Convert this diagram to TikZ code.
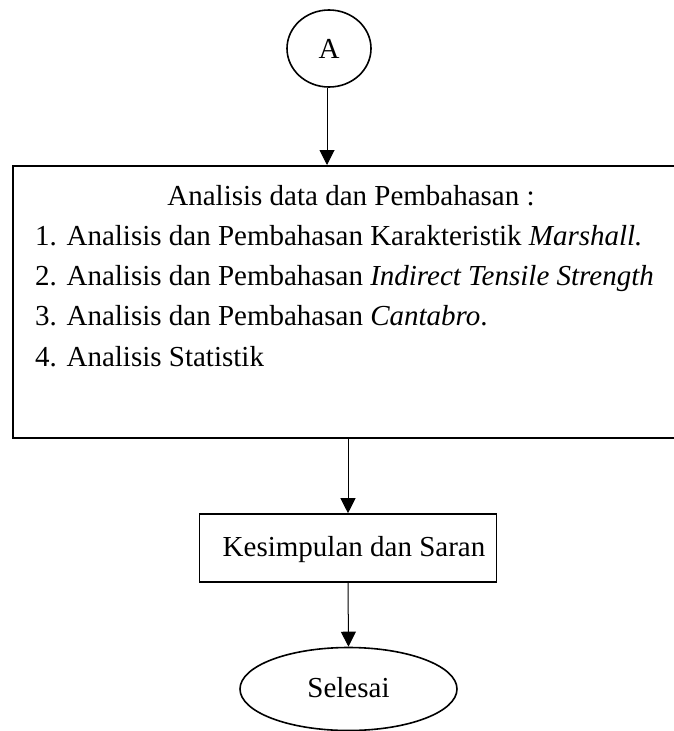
\documentclass[tikz,border=0pt]{standalone}
\usepackage{fontspec}
\setmainfont{Liberation Serif}
\usetikzlibrary{arrows.meta,shapes.geometric}
\begin{document}
\begin{tikzpicture}[x=1pt,y=-1pt,
  conn/.style={line width=1pt,-{Triangle[length=15pt,width=15pt]}},
  bigfont/.style={font=\fontsize{29}{34}\selectfont},
  txt/.style={bigfont, inner sep=0pt, anchor=base west},
  thick box/.style={draw, line width=1.6pt},
]
\useasboundingbox (0,0) rectangle (673,731);
\node[draw, line width=1.6pt, ellipse, minimum width=84pt, minimum height=77pt, inner sep=0pt] (A) at (329,48.5) {};
\node[bigfont, inner sep=0pt, anchor=base] (la) at (329,58) {A};
\node[thick box, rectangle, minimum width=664pt, minimum height=272pt, anchor=north west, inner sep=0pt] (box) at (12,165) {};
\node[txt, anchor=base] (t0) at (351,205) {Analisis data dan Pembahasan :};
\node[txt] (t1) at (35,245) {1. Analisis dan Pembahasan Karakteristik \textit{Marshall.}};
\node[txt] (t2) at (35,285) {2. Analisis dan Pembahasan \textit{Indirect Tensile Strength}};
\node[txt] (t3) at (35,325) {3. Analisis dan Pembahasan \textit{Cantabro}.};
\node[txt] (t4) at (35,366) {4. Analisis Statistik};
\node[thick box, rectangle, minimum width=297pt, minimum height=68pt, inner sep=0pt] (ks) at (348,548) {};
\node[txt, anchor=base] (lks) at (354,556) {Kesimpulan dan Saran};
\node[draw, line width=1.6pt, ellipse, minimum width=217pt, minimum height=83pt, inner sep=0pt] (end) at (348.5,689) {};
\node[txt, anchor=base] (lend) at (348.5,697) {Selesai};
\draw[conn] (A.south -| 327,0) -- (box.north -| 327,0);
\draw[conn] (box.south -| ks.north) -- (ks.north);
\draw[conn] (ks.south) -- (end.north);
\end{tikzpicture}
\end{document}
